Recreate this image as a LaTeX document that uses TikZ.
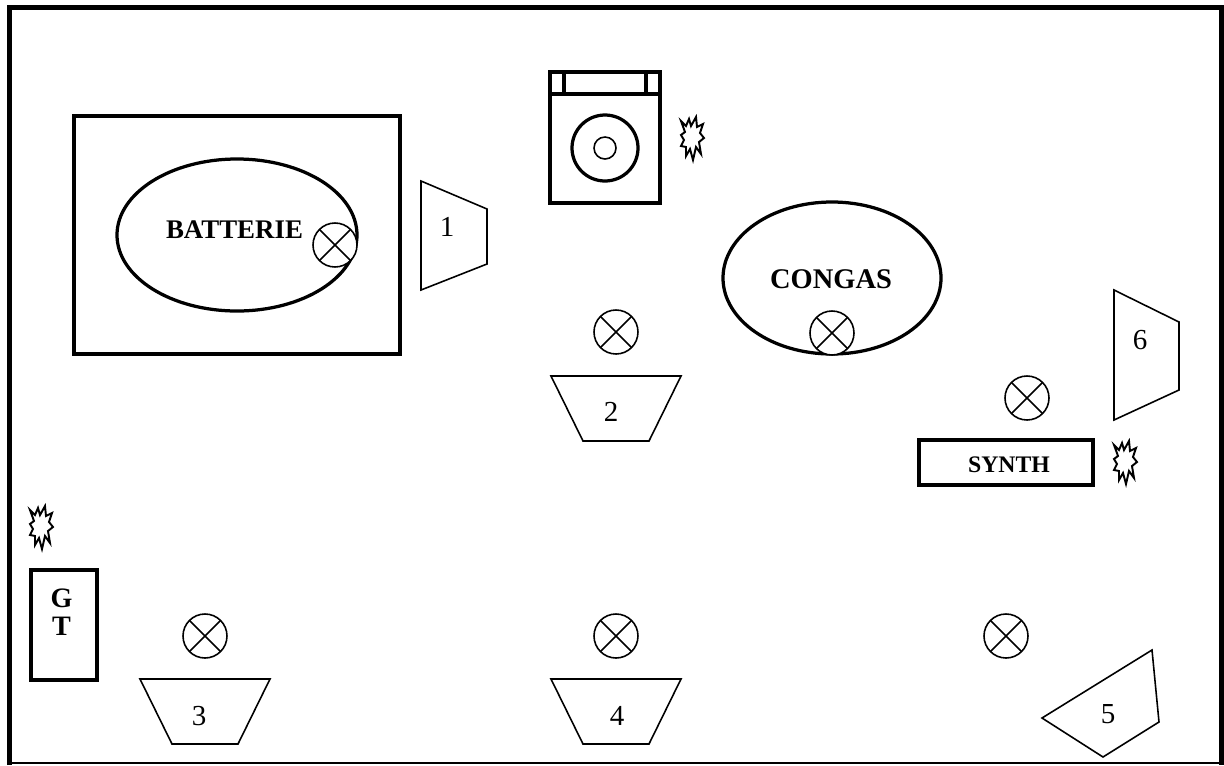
\documentclass[tikz,border=0pt]{standalone}
\usepackage{fontspec}
\setmainfont{Liberation Serif}
\usetikzlibrary{positioning}
\tikzset{
        thick line/.style={line width=1.85pt},
        thin line/.style={line width=0.9pt},
        lamp/.style={circle,draw,fill=white,line width=0.9pt,minimum size=0.88cm,inner sep=0pt,
                path picture={\draw[line width=0.9pt] (path picture bounding box.north west)--(path picture bounding box.south east)
                (path picture bounding box.north east)--(path picture bounding box.south west);}},
        num/.style={font=\fontsize{16.5}{18}\selectfont},
        title/.style={font=\fontsize{15.3}{18}\selectfont\bfseries},
        flash/.pic={\draw[line width=1.1pt,fill=white] (-11,-17)--(-6,-12)--(-3,-19)--(-1,-12)--(4,-21)--(5,-11)--(11,-14)--(8,-5)--(12,0)--(7,4)--(9,16)--(4,9)--(1,22)--(-2,11)--(-6,18)--(-6,9)--(-11,8)--(-8,2)--(-11,-3)--(-7,-6)--cycle;}
}
\begin{document}
\begin{tikzpicture}[x=0.02cm,y=-0.02cm]
        \useasboundingbox (0,0) rectangle (1224,765);
        % frame
        \draw[line width=0.6pt] (7,763)--(1224,763);
        \draw[line width=2.83pt] (9.5,765)--(9.5,7.5)--(1221.5,7.5)--(1221.5,765);
        % drums
        \draw[thick line] (74,116) rectangle (400,354);
        \draw[thick line] (237,235) ellipse (120 and 76);
        \node[title] (batterie) at (234.5,230) {BATTERIE};
        \node[lamp] (lampa) at (335,245) {};
        \node[title,font=\fontsize{16.2}{18}\selectfont\bfseries] (congas) at (831,279) {CONGAS};
        \draw[thick line] (832,278) ellipse (109 and 76);
        \node[lamp] (lampb) at (832,333) {};
        % amp
        \draw[thick line] (550,72) rectangle (660,203);
        \draw[thick line] (550,94)--(660,94);
        \draw[thick line] (564,72)--(564,94);
        \draw[thick line] (646,72)--(646,94);
        \draw[thick line] (605,148) circle (33);
        \draw[thin line] (605,148) circle (11);
        \pic at (692,138) {flash};
        % synth and guitar
        \draw[thick line] (919,440) rectangle (1093,485);
        \node[title,font=\fontsize{13.5}{16}\selectfont\bfseries] (synth) at (1009,465) {SYNTH};
        \pic at (1125,462) {flash};
        \draw[thick line] (31,570) rectangle (97,680);
        \node[title,align=center,font=\fontsize{16}{15.9}\selectfont\bfseries] (gt) at (61.5,612) {G\\T};
        \pic at (41,527) {flash};
        % lamps
        \node[lamp] (lampc) at (616,332) {};
        \node[lamp] (lampd) at (1027,398) {};
        \node[lamp] (lampe) at (205,636) {};
        \node[lamp] (lampf) at (616,636) {};
        \node[lamp] (lampg) at (1006,636) {};
        % wedges
        \draw[thin line] (421,181)--(487,209)--(487,264)--(421,290)--cycle;
        \node[num] (one) at (447,227) {1};
        \draw[thin line] (551,376)--(681,376)--(649,441)--(583,441)--cycle;
        \node[num] (two) at (611,412) {2};
        \draw[thin line] (140,679)--(270,679)--(238,744)--(172,744)--cycle;
        \node[num] (three) at (199,716) {3};
        \draw[thin line] (551,679)--(681,679)--(649,744)--(583,744)--cycle;
        \node[num] (four) at (617,716) {4};
        \draw[thin line] (1152,650)--(1159,722)--(1103,757)--(1042,718)--cycle;
        \node[num] (five) at (1108,714) {5};
        \draw[thin line] (1114,290)--(1179,322)--(1179,390)--(1114,420)--cycle;
        \node[num] (six) at (1140,340) {6};
\end{tikzpicture}
\end{document}
